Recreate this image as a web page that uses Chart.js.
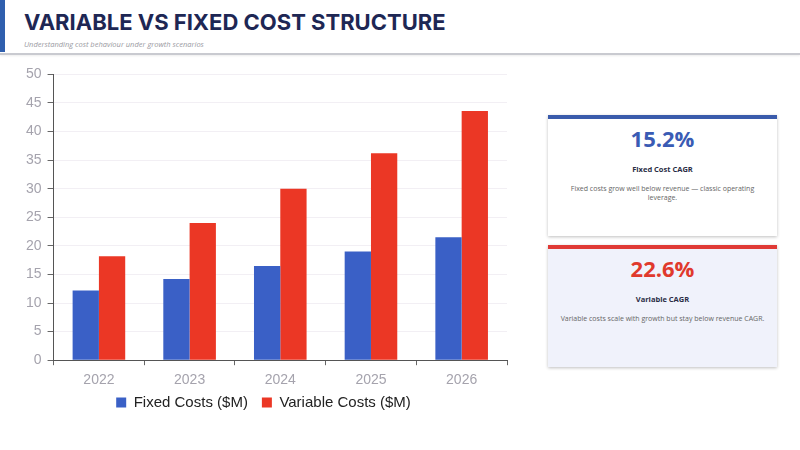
<!DOCTYPE html>
<html>
<head>
<meta charset="utf-8">
<script src="https://cdn.jsdelivr.net/npm/chart.js@4.4.1/dist/chart.umd.min.js"></script>
<style>
  html, body { margin: 0; padding: 0; background: #fff; }
  body { width: 800px; height: 450px; position: relative; overflow: hidden; font-family: "Liberation Sans", Arial, sans-serif; }
  .accent { position: absolute; left: 0; top: 0; width: 5px; height: 52px; background: #2f5fae; }
  .header { position: absolute; left: 0; top: 0; width: 800px; height: 53px; border-bottom: 2px solid #c9cad0; box-shadow: 0 1px 2px rgba(0,0,0,0.08); }
  .title { position: absolute; left: 24px; top: 9px; font-family: Inter, "Liberation Sans", sans-serif; font-weight: 700; font-size: 22px; color: #1e2754; }
  .subtitle { position: absolute; left: 24px; top: 39px; font-family: "Open Sans", sans-serif; font-style: italic; font-size: 7.5px; color: #9a9aa2; }
  .chart-box { position: absolute; left: 20px; top: 60px; width: 500px; height: 375px; }
  .card { position: absolute; left: 548px; width: 229px; box-sizing: border-box; text-align: center; font-family: "Open Sans", sans-serif; box-shadow: 0 1px 3px rgba(0,0,0,0.25); }
  .card .big { font-weight: 700; font-size: 22px; line-height: 1; margin-top: 8px; }
  .card .name { font-weight: 700; font-size: 7.5px; line-height: 11px; color: #2a2d45; margin-top: 15px; }
  .card .desc { font-size: 7px; color: #666; margin: 10px 12px 0; line-height: 8.5px; }
  .c1 { top: 115px; height: 121px; border-top: 4px solid #3a5bab; background: #fff; }
  .c1 .big { color: #3a5bb4; }
  .c2 { top: 245px; height: 122px; border-top: 4px solid #e03a36; background: #f0f2fb; }
  .c2 .big { color: #e0392c; }
</style>
</head>
<body>
<div class="header"></div>
<div class="accent"></div>
<div class="title">VARIABLE VS FIXED COST STRUCTURE</div>
<div class="subtitle">Understanding cost behaviour under growth scenarios</div>

<div class="chart-box"><canvas id="costChart"></canvas></div>

<div class="card c1">
  <div class="big">15.2%</div>
  <div class="name">Fixed Cost CAGR</div>
  <div class="desc">Fixed costs grow well below revenue — classic operating leverage.</div>
</div>
<div class="card c2">
  <div class="big">22.6%</div>
  <div class="name">Variable CAGR</div>
  <div class="desc">Variable costs scale with growth but stay below revenue CAGR.</div>
</div>

<script>
const years = ['2022', '2023', '2024', '2025', '2026'];
const fixedCosts = [12.2, 14.2, 16.5, 19.0, 21.5];
const variableCosts = [18.2, 24.0, 30.0, 36.2, 43.6];
const yTicks = [0, 5, 10, 15, 20, 25, 30, 35, 40, 45, 50];

// pull the legend up closer to the x labels, keeping wide gaps between items
const legendLift = {
  id: 'legendLift',
  afterLayout(chart) {
    const lg = chart.legend;
    if (lg) { lg.top -= 15; lg.bottom -= 15; }
  }
};

const ctx = document.getElementById('costChart').getContext('2d');
new Chart(ctx, {
  type: 'bar',
  data: {
    labels: years,
    datasets: [
      {
        label: 'Fixed Costs ($M)',
        data: fixedCosts,
        backgroundColor: '#3a60c6',
        borderWidth: 0
      },
      {
        label: 'Variable Costs ($M)',
        data: variableCosts,
        backgroundColor: '#eb3725',
        borderWidth: 0
      }
    ]
  },
  options: {
    responsive: true,
    maintainAspectRatio: false,
    animation: false,
    layout: { padding: { top: 1, right: 13, bottom: 0, left: 0 } },
    datasets: { bar: { categoryPercentage: 0.58, barPercentage: 1.0 } },
    plugins: {
      legend: {
        position: 'bottom',
        labels: {
          boxWidth: 10,
          boxHeight: 10,
          padding: 14,
          color: '#222',
          font: { family: 'Liberation Sans', size: 15 }
        }
      },
      tooltip: { enabled: false }
    },
    scales: {
      x: {
        grid: { drawOnChartArea: false, drawTicks: true, tickLength: 5, color: '#666' },
        border: { color: '#555', width: 1 },
        ticks: { color: '#a5a3ad', font: { family: 'Liberation Sans', size: 14 }, padding: 7 }
      },
      y: {
        min: 0,
        max: 50,
        afterBuildTicks: axis => { axis.ticks = yTicks.map(v => ({ value: v })); },
        grid: { color: '#f2eff4', tickLength: 6, tickColor: '#666' },
        border: { color: '#555', width: 1 },
        ticks: { color: '#a5a3ad', font: { family: 'Liberation Sans', size: 14 }, padding: 6 }
      }
    }
  },
  plugins: [legendLift]
});
</script>
</body>
</html>
